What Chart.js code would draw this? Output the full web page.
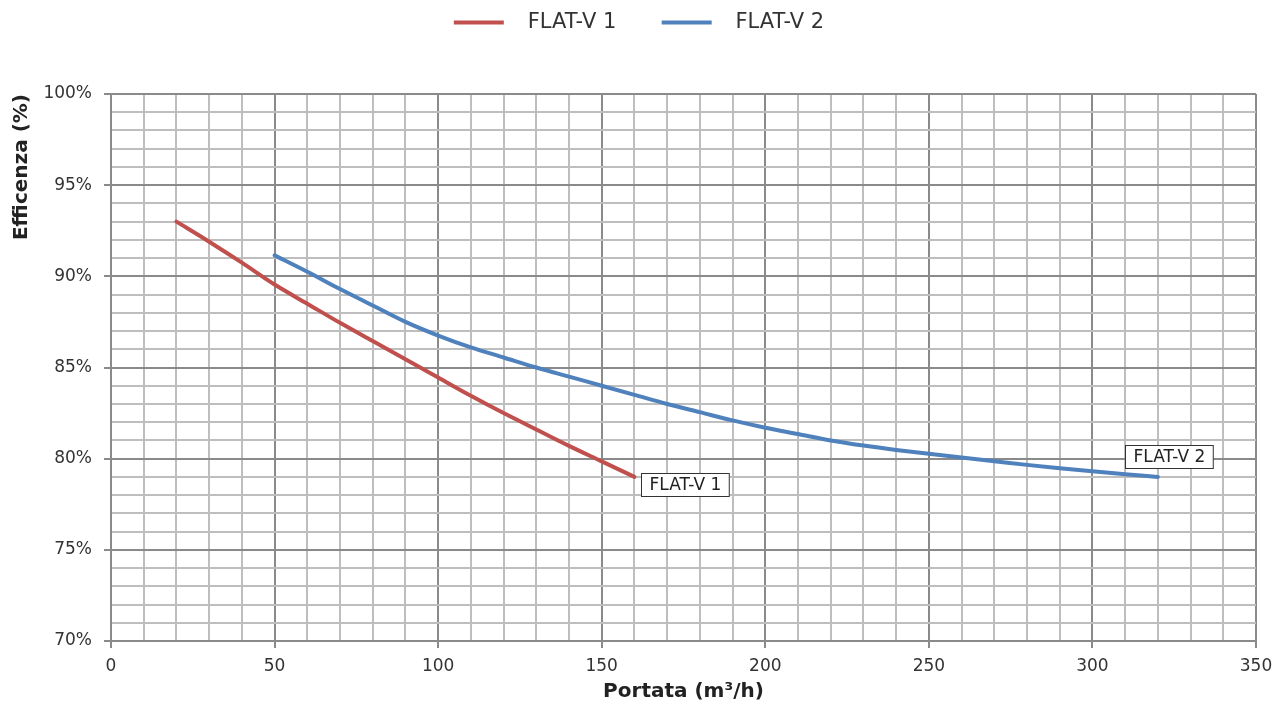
<!DOCTYPE html>
<html>
<head>
<meta charset="utf-8">
<script src="https://cdn.jsdelivr.net/npm/chart.js@4.4.1/dist/chart.umd.min.js"></script>
<style>
  html, body { margin: 0; padding: 0; background: #fff; }
  #wrap { width: 1277px; height: 704px; }
</style>
</head>
<body>
<div id="wrap"><canvas id="effChart" width="1277" height="704"></canvas></div>
<script>
// portata (m3/h) e efficenza (%)
const portataV1 = [20, 30, 40, 50, 60, 70, 80, 90, 100, 110, 120, 130, 140, 150, 160];
const efficV1 = [93.0, 91.9, 90.75, 89.55, 88.5, 87.45, 86.45, 85.45, 84.45, 83.45, 82.5, 81.6, 80.7, 79.85, 79.0];

const portataV2 = [50, 60, 70, 80, 90, 100, 110, 120, 130, 140, 150, 160, 170, 180, 190, 200,
  210, 220, 230, 240, 250, 260, 270, 280, 290, 300, 310, 320];
const efficV2 = [91.15, 90.25, 89.3, 88.4, 87.5, 86.75, 86.1, 85.55, 85.0, 84.5, 84.0, 83.5, 83.0, 82.55,
  82.1, 81.7, 81.35, 81.0, 80.72, 80.48, 80.27, 80.06, 79.86, 79.66, 79.48, 79.31, 79.15, 79.0];

const seriesNames = ['FLAT-V 1', 'FLAT-V 2'];
const xTicksMajor = [0, 50, 100, 150, 200, 250, 300, 350];
const yTicksMajor = [70, 75, 80, 85, 90, 95, 100];

const RED = '#C0504D';
const BLUE = '#4F81BD';
const MAJOR = '#8a8a8a';
const MINOR = '#bebebe';
const FONT = '"DejaVu Sans", sans-serif';

function toPoints(xs, ys) {
  return xs.map((x, i) => ({ x: x, y: ys[i] }));
}

// legenda: altezza fissa del riquadro e leggero spostamento a destra
const legendBox = {
  id: 'legendBox',
  beforeUpdate(chart) {
    const lg = chart.legend;
    if (lg && !lg._fitPatched) {
      const origFit = lg.fit.bind(lg);
      lg.fit = function () {
        origFit();
        this.height = 94;
      };
      lg._fitPatched = true;
    }
  },
  afterLayout(chart) {
    const lg = chart.legend;
    if (lg) {
      lg.left += 11;
      lg.right += 11;
    }
  }
};

// etichetta con riquadro alla fine di ogni curva
const endLabels = {
  id: 'endLabels',
  afterDatasetsDraw(chart) {
    const ctx = chart.ctx;
    const offsets = [{ dx: 7, dy: -4 }, { dx: -33, dy: -32 }];
    chart.data.datasets.forEach((ds, i) => {
      const meta = chart.getDatasetMeta(i);
      const last = meta.data[meta.data.length - 1];
      if (!last) return;
      ctx.save();
      ctx.font = '17px ' + FONT;
      const w = ctx.measureText(ds.label).width + 16;
      const h = 23;
      const bx = Math.round(last.x + offsets[i].dx) + 0.5;
      const by = Math.round(last.y + offsets[i].dy) + 0.5;
      ctx.fillStyle = '#fff';
      ctx.fillRect(bx, by, w, h);
      ctx.strokeStyle = '#333';
      ctx.lineWidth = 1;
      ctx.strokeRect(bx, by, w, h);
      ctx.fillStyle = '#222';
      ctx.textBaseline = 'middle';
      ctx.fillText(ds.label, bx + 8, by + h / 2 + 1);
      ctx.restore();
    });
  }
};

new Chart(document.getElementById('effChart'), {
  type: 'line',
  data: {
    datasets: [
      {
        label: seriesNames[0],
        data: toPoints(portataV1, efficV1),
        borderColor: RED,
        backgroundColor: RED,
        borderWidth: 4,
        borderCapStyle: 'round',
        pointRadius: 0,
        cubicInterpolationMode: 'monotone'
      },
      {
        label: seriesNames[1],
        data: toPoints(portataV2, efficV2),
        borderColor: BLUE,
        backgroundColor: BLUE,
        borderWidth: 4,
        borderCapStyle: 'round',
        pointRadius: 0,
        cubicInterpolationMode: 'monotone'
      }
    ]
  },
  options: {
    responsive: false,
    animation: false,
    layout: { padding: { left: 0, right: 21, top: 0, bottom: 0 } },
    plugins: {
      tooltip: { enabled: false },
      legend: {
        position: 'top',
        labels: {
          usePointStyle: true,
          pointStyle: 'line',
          pointStyleWidth: 50,
          padding: 12,
          color: '#333',
          font: { family: FONT, size: 21 },
          generateLabels(chart) {
            const items = Chart.defaults.plugins.legend.labels.generateLabels(chart);
            items.forEach((it, i) => {
              it.text = '  ' + it.text + (i === 0 ? '     ' : '');
            });
            return items;
          }
        }
      }
    },
    scales: {
      x: {
        type: 'linear',
        min: 0,
        max: 350,
        afterFit(scale) {
          scale.height = 63;
          scale.paddingRight = 0;
        },
        afterBuildTicks(scale) {
          const t = [];
          for (let v = 0; v <= 350; v += 10) t.push({ value: v });
          scale.ticks = t;
        },
        ticks: {
          autoSkip: false,
          maxRotation: 0,
          color: '#333',
          padding: 8,
          font: { family: FONT, size: 17 },
          callback: v => (xTicksMajor.includes(v) ? v : '')
        },
        grid: {
          lineWidth: 2,
          tickLength: 7,
          color: c => (c.tick && c.tick.value % 50 === 0 ? MAJOR : MINOR),
          tickColor: c => (c.tick && c.tick.value % 50 === 0 ? MAJOR : 'rgba(0,0,0,0)')
        },
        border: { color: MAJOR, width: 2 },
        title: {
          display: true,
          text: 'Portata (m³/h)',
          color: '#222',
          padding: { top: 2, bottom: 0 },
          font: { family: FONT, size: 20, weight: 'bold' }
        }
      },
      y: {
        min: 70,
        max: 100,
        afterFit(scale) { scale.width = 111; },
        afterBuildTicks(scale) {
          const t = [];
          for (let v = 70; v <= 100; v += 1) t.push({ value: v });
          scale.ticks = t;
        },
        ticks: {
          autoSkip: false,
          color: '#333',
          padding: 12,
          font: { family: FONT, size: 17 },
          callback: v => (yTicksMajor.includes(v) ? v + '%' : '')
        },
        grid: {
          lineWidth: 2,
          tickLength: 7,
          color: c => (c.tick && c.tick.value % 5 === 0 ? MAJOR : MINOR),
          tickColor: c => (c.tick && c.tick.value % 5 === 0 ? MAJOR : 'rgba(0,0,0,0)')
        },
        border: { color: MAJOR, width: 2 },
        title: {
          display: true,
          align: 'end',
          text: 'Efficenza (%)',
          color: '#222',
          padding: { top: 10, bottom: 4 },
          font: { family: FONT, size: 20, weight: 'bold' }
        }
      }
    }
  },
  plugins: [legendBox, endLabels]
});
</script>
</body>
</html>
